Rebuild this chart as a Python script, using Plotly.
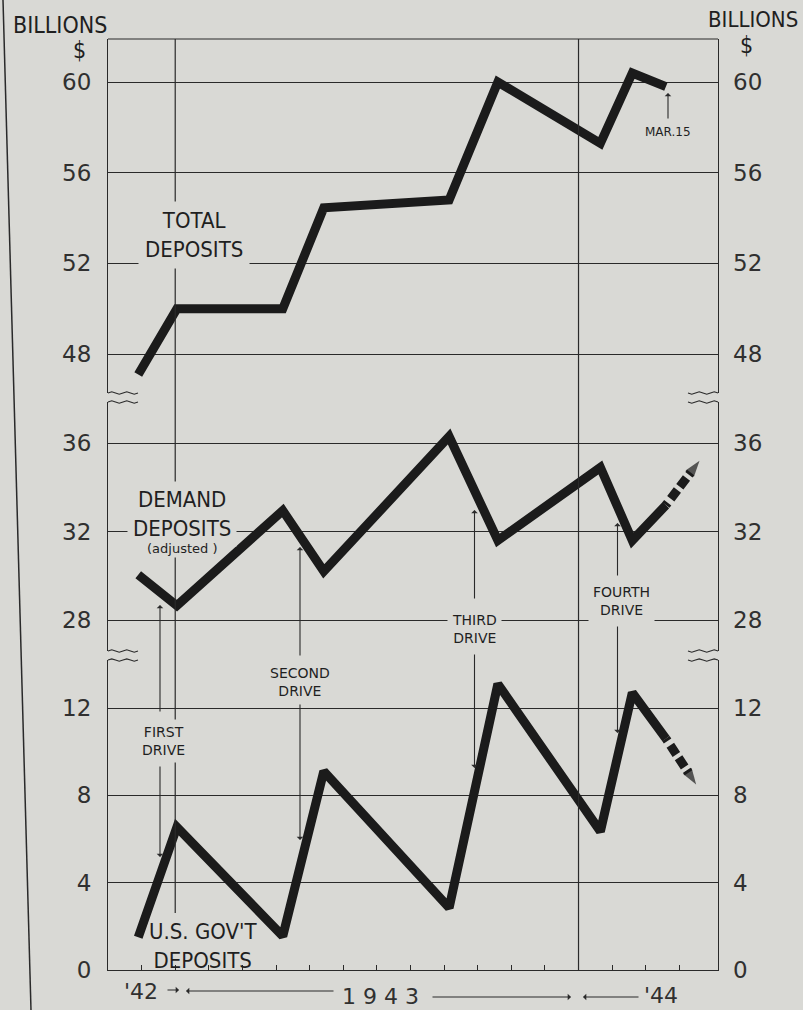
import numpy as np
import plotly.graph_objects as go

# ---------------- data (month index: 0 = 1 Jan 1943) ----------------
months = [-1.1, 0.05, 3.2, 4.42, 8.15, 9.6, 12.65, 13.6, 14.6]
total_deposits = [47.1, 50.0, 50.0, 54.45, 54.8, 60.0, 57.3, 60.4, 59.8]
demand_deposits = [30.05, 28.65, 32.95, 30.2, 36.3, 31.6, 34.9, 31.6, 33.2]
govt_deposits = [1.5, 6.55, 1.55, 9.1, 2.85, 13.1, 6.35, 12.7, 10.6]

# projected continuation after Mar. 15, 1944 (dashed)
demand_proj_months = [14.6, 15.6]
demand_proj = [33.2, 35.2]
govt_proj_months = [14.6, 15.5]
govt_proj = [10.6, 8.5]

top_ticks = [48, 52, 56, 60]
mid_ticks = [28, 32, 36]
bot_ticks = [0, 4, 8, 12]
year_bounds = [0, 12]
month_ticks = list(range(-1, 16))

# ---------------- styling ----------------
BG = "#d9d9d5"
INK = "#2a2a2a"
LINE = "#1b1b1b"
NARROW = "Liberation Sans Narrow, DejaVu Sans Condensed, Arial Narrow, sans-serif"
SANS = "DejaVu Sans, sans-serif"

L, R, T, B = 108, 718, 39, 970   # plot area in pixels


def px(x):
    return (x - L) / (R - L)


def py(y):
    return (B - y) / (B - T)


fig = go.Figure()

thick = dict(color=LINE, width=9)
fig.add_trace(go.Scatter(x=months, y=total_deposits, mode="lines", line=thick,
                         xaxis="x", yaxis="y", hoverinfo="skip"))
fig.add_trace(go.Scatter(x=months, y=demand_deposits, mode="lines", line=thick,
                         xaxis="x", yaxis="y2", hoverinfo="skip"))
fig.add_trace(go.Scatter(x=months, y=govt_deposits, mode="lines", line=thick,
                         xaxis="x", yaxis="y3", hoverinfo="skip"))

# dashed projections ending in a pointed tip
for pm, pv, ax in [(demand_proj_months, demand_proj, "y2"), (govt_proj_months, govt_proj, "y3")]:
    pm = np.array(pm, dtype=float)
    pv = np.array(pv, dtype=float)
    end_m = pm[0] + 0.78 * (pm[1] - pm[0])
    end_v = pv[0] + 0.78 * (pv[1] - pv[0])
    fig.add_trace(go.Scatter(x=[pm[0], end_m], y=[pv[0], end_v], mode="lines",
                             line=dict(color=LINE, width=9, dash="3px,5px,11px,4px,11px,4px"),
                             xaxis="x", yaxis=ax, hoverinfo="skip"))
    fig.add_trace(go.Scatter(x=list(pm), y=list(pv), mode="markers",
                             marker=dict(symbol=["circle", "arrow"], size=[0, 17], color=LINE,
                                         angleref="previous", line=dict(width=0)),
                             xaxis="x", yaxis=ax, hoverinfo="skip"))

# invisible traces so the right-hand axes render
for ax, vals in [("y4", total_deposits), ("y5", demand_deposits), ("y6", govt_deposits)]:
    fig.add_trace(go.Scatter(x=months, y=vals, mode="lines", line=dict(width=0),
                             opacity=0, xaxis="x", yaxis=ax, hoverinfo="skip"))

tickfont = dict(family=SANS, size=23, color="#303030")


def yax(domain, rng, ticks, **kw):
    d = dict(domain=domain, range=rng, tickvals=ticks, ticktext=[str(t) for t in ticks],
             showgrid=True, gridcolor=INK, gridwidth=1, zeroline=False,
             showline=True, mirror=True, linecolor=INK, linewidth=1.2,
             ticks="", tickfont=tickfont, ticklabelstandoff=11, anchor="x", fixedrange=True)
    d.update(kw)
    return d


dom_top = [py(393), 1.0]
dom_mid = [py(651), py(402)]
dom_bot = [0.0, py(660)]
rng_top = [46.28, 61.9]
rng_mid = [26.6, 37.86]
rng_bot = [0, 14.2]


def ryax(overlay, domain, rng, ticks):
    return dict(domain=domain, range=rng, tickvals=ticks, ticktext=[str(t) for t in ticks],
                overlaying=overlay, side="right", anchor="x", showgrid=False, zeroline=False,
                showline=False, ticks="", tickfont=tickfont, ticklabelstandoff=14, fixedrange=True)


fig.update_layout(
    width=803, height=1010, autosize=False,
    margin=dict(l=L, r=803 - R, t=T, b=1010 - B, pad=0),
    paper_bgcolor=BG, plot_bgcolor=BG, showlegend=False,
    xaxis=dict(range=[-2.0, 16.15], anchor="y3", showgrid=False, zeroline=False,
               showline=True, linecolor=INK, linewidth=1.2, ticks="inside", ticklen=5,
               tickcolor=INK, tickvals=month_ticks, showticklabels=False, fixedrange=True),
    yaxis=yax(dom_top, rng_top, top_ticks),
    yaxis2=yax(dom_mid, rng_mid, mid_ticks),
    yaxis3=yax(dom_bot, rng_bot, bot_ticks),
    yaxis4=ryax("y", dom_top, rng_top, top_ticks),
    yaxis5=ryax("y2", dom_mid, rng_mid, mid_ticks),
    yaxis6=ryax("y3", dom_bot, rng_bot, bot_ticks),
)

shapes = []
# top border
shapes.append(dict(type="line", xref="paper", yref="paper", x0=0, x1=1, y0=1, y1=1,
                   line=dict(color=INK, width=1.2)))
# year boundary lines
shapes.append(dict(type="line", xref="x", yref="paper", x0=year_bounds[0], x1=year_bounds[0],
                   y0=py(913), y1=1, line=dict(color=INK, width=1.2)))
shapes.append(dict(type="line", xref="x", yref="paper", x0=year_bounds[1], x1=year_bounds[1],
                   y0=0, y1=1, line=dict(color=INK, width=1.2)))
# page border line at far left
shapes.append(dict(type="line", xref="paper", yref="paper", x0=px(3), y0=py(0), x1=px(31), y1=py(1010),
                   line=dict(color=INK, width=1.5)))


def wave(xa, xb, y):
    n = 9
    xs = np.linspace(xa, xb, n)
    ys = y + np.array([0, -1.2, 0, 1.2, 0, -1.2, 0, 1.2, 0])
    pts = ["%s%.5f,%.5f" % ("M" if i == 0 else "L", px(a), py(b)) for i, (a, b) in enumerate(zip(xs, ys))]
    return " ".join(pts)


for yu, yl in [(393, 402), (651, 660)]:
    for xa, xb in [(L, L + 30), (R, R - 30)]:
        for yy in (yu, yl):
            shapes.append(dict(type="path", xref="paper", yref="paper", path=wave(xa, xb, yy),
                               line=dict(color=INK, width=1.2)))
fig.update_layout(shapes=shapes)

ann = []


def label(text, x, y, size=22, family=NARROW, bg=BG, pad=3, color="#1f1f1f"):
    ann.append(dict(text=text, x=px(x), y=py(y), xref="paper", yref="paper", showarrow=False,
                    font=dict(family=family, size=size, color=color), bgcolor=bg, borderpad=pad,
                    xanchor="center", yanchor="middle"))


def arrow(x, tail, tip, head=1, size=1.0):
    ann.append(dict(text="", x=px(x), y=py(tip), xref="paper", yref="paper", showarrow=True,
                    ax=0, ay=tail - tip, arrowhead=head, arrowsize=size, arrowwidth=1.1,
                    arrowcolor=INK))


def harrow(y, tail, tip):
    ann.append(dict(text="", x=px(tip), y=py(y), xref="paper", yref="paper", showarrow=True,
                    ax=tail - tip, ay=0, arrowhead=1, arrowsize=1.0, arrowwidth=1.1,
                    arrowcolor=INK))


# axis unit captions
label("BILLIONS", 60, 25, size=23, bg=None)
label("$", 79, 50, size=23, bg=None)
label("BILLIONS", 753, 20, size=22, bg=None)
label("$", 746, 45, size=23, bg=None)

# series labels
label("TOTAL<br>DEPOSITS", 194, 235, pad=6)
label("DEMAND<br>DEPOSITS", 182, 514, pad=5)
label("(adjusted )", 182, 548, size=13, family=SANS, pad=1)
label("U.S. GOV'T<br>DEPOSITS", 203, 946, bg=None)

# Mar. 15 marker
label("MAR.15", 668, 132, size=12, family=SANS, bg=None)
arrow(668, 120, 93)

# war loan drives
drive_lbl = [
    ("FIRST<br>DRIVE", 163, 741, 160, (713, 605), (765, 857)),
    ("SECOND<br>DRIVE", 300, 682, 300, (657, 547), (703, 840)),
    ("THIRD<br>DRIVE", 474, 629, 474.5, (600, 510), (653, 768)),
    ("FOURTH<br>DRIVE", 621, 601, 617.5, (577, 523), (625, 733)),
]
for txt, xl, yl, xa, up, down in drive_lbl:
    label(txt, xl, yl, size=14, family=SANS, pad=4)
    arrow(xa, up[0], up[1])
    arrow(xa, down[0], down[1])

# time axis captions
label("'42", 141, 991, size=22, family=SANS, bg=None, color="#303030")
harrow(990, 166, 179)
harrow(991, 335, 186)
label("1 9 4 3", 380, 996, size=22, family=SANS, bg=None, color="#303030")
harrow(997, 431, 571)
harrow(997, 640, 583)
label("'44", 661, 995, size=22, family=SANS, bg=None, color="#303030")

fig.update_layout(annotations=ann)

fig.write_html("out.html", config={"displayModeBar": False},
               post_script="document.body.style.margin='0';document.body.style.overflow='hidden';")
